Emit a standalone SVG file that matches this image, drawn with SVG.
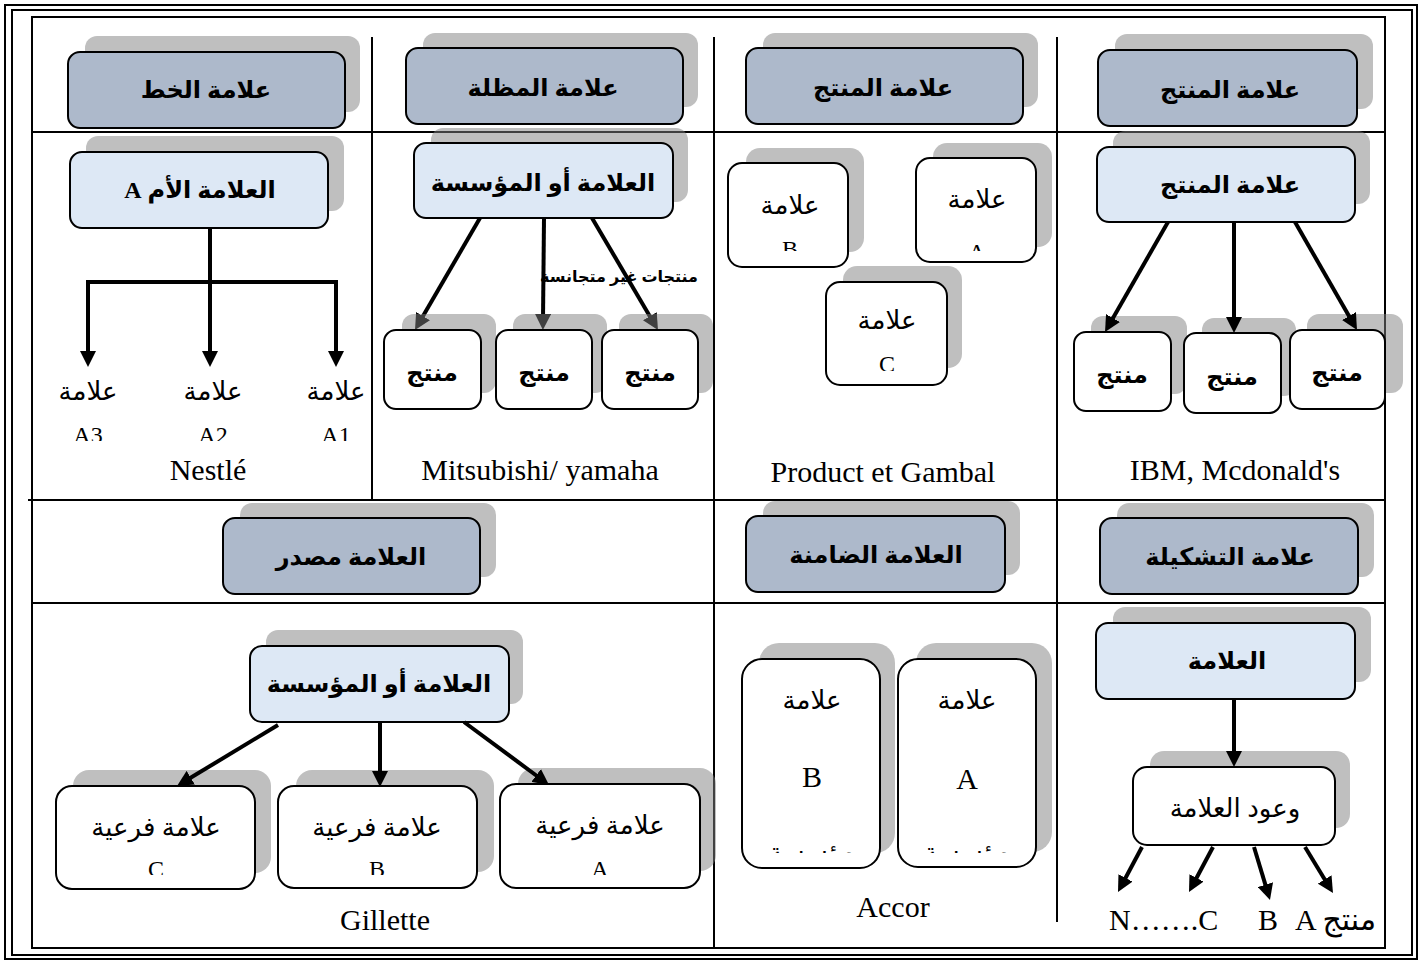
<svg xmlns="http://www.w3.org/2000/svg" width="1426" height="962" viewBox="0 0 1426 962">
  <defs>
    <style>
      .sh { fill: #808080; fill-opacity: 0.5; }
      .hd { fill: #adb9cb; stroke: #000; stroke-width: 2; }
      .lt { fill: #dde8f5; stroke: #000; stroke-width: 2; }
      .wb { fill: #fff; stroke: #000; stroke-width: 2; }
      .ln { fill: none; stroke: #000; stroke-width: 2; }
      .ar { fill: none; stroke: #000; stroke-width: 4; marker-end: url(#ah); }
      .tb { font-family: "Liberation Serif", "DejaVu Sans", serif; font-weight: bold; font-size: 24px; text-anchor: middle; fill: #000; }
      .tr { font-family: "Liberation Serif", "DejaVu Sans", serif; font-size: 26px; text-anchor: middle; fill: #000; }
      .lat { font-family: "Liberation Serif", "Times New Roman", serif; font-size: 24px; text-anchor: middle; fill: #000; }
      .cap { font-family: "Liberation Serif", "Times New Roman", "DejaVu Sans", serif; font-size: 30px; text-anchor: middle; fill: #000; }
      .sm { font-family: "Liberation Serif", "DejaVu Sans", serif; font-weight: bold; font-size: 16px; text-anchor: middle; fill: #000; }
    </style>
    <marker id="ah" viewBox="0 0 16 16" refX="6" refY="8" markerWidth="16" markerHeight="16" markerUnits="userSpaceOnUse" orient="auto-start-reverse">
      <path d="M0,0 L16,8 L0,16 z" fill="#000"/>
    </marker>
    <!-- text boxes that cut their second line -->
    <clipPath id="cA1"><rect x="40" y="410" width="330" height="31"/></clipPath>
    <clipPath id="cB3"><rect x="730" y="230" width="116" height="21"/></clipPath>
    <clipPath id="cA3"><rect x="918" y="230" width="116" height="21"/></clipPath>
    <clipPath id="cC3"><rect x="828" y="340" width="117" height="31"/></clipPath>
    <clipPath id="cSub"><rect x="56" y="850" width="646" height="25"/></clipPath>
    <clipPath id="cOrg"><rect x="744" y="830" width="290" height="23"/></clipPath>
  </defs>

  <!-- page border and table grid -->
  <g id="grid">
    <rect class="ln" x="5" y="5" width="1412" height="954"/>
    <rect class="ln" x="12" y="10" width="1400" height="945"/>
    <rect class="ln" x="32" y="17" width="1353" height="931"/>
    <line class="ln" x1="32" y1="132" x2="1385" y2="132"/>
    <line class="ln" x1="28" y1="500" x2="1385" y2="500" stroke-width="3"/>
    <line class="ln" x1="32" y1="603" x2="1385" y2="603"/>
    <line class="ln" x1="372" y1="37" x2="372" y2="500"/>
    <line class="ln" x1="714" y1="37" x2="714" y2="500"/>
    <line class="ln" x1="1057" y1="37" x2="1057" y2="500"/>
    <line class="ln" x1="714" y1="500" x2="714" y2="948"/>
    <line class="ln" x1="1057" y1="500" x2="1057" y2="922"/>
  </g>

  <!-- column headers -->
  <g id="h-line">
    <rect class="sh" x="85" y="36" width="275" height="76" rx="12"/>
    <rect class="hd" x="68" y="52" width="277" height="76" rx="12"/>
    <text class="tb" x="206" y="98">علامة الخط</text>
  </g>
  <g id="h-umbrella">
    <rect class="sh" x="423" y="33" width="275" height="74" rx="12"/>
    <rect class="hd" x="406" y="48" width="277" height="76" rx="12"/>
    <text class="tb" x="543" y="96">علامة المظلة</text>
  </g>
  <g id="h-product-a">
    <rect class="sh" x="763" y="33" width="275" height="74" rx="12"/>
    <rect class="hd" x="746" y="48" width="277" height="76" rx="12"/>
    <text class="tb" x="883" y="96">علامة المنتج</text>
  </g>
  <g id="h-product-b">
    <rect class="sh" x="1115" y="34" width="258" height="75" rx="12"/>
    <rect class="hd" x="1098" y="50" width="259" height="76" rx="12"/>
    <text class="tb" x="1230" y="98">علامة المنتج</text>
  </g>
  <g id="h-source">
    <rect class="sh" x="240" y="503" width="256" height="74" rx="12"/>
    <rect class="hd" x="223" y="518" width="257" height="76" rx="12"/>
    <text class="tb" x="351" y="565">العلامة مصدر</text>
  </g>
  <g id="h-guarantee">
    <rect class="sh" x="763" y="501" width="257" height="74" rx="12"/>
    <rect class="hd" x="746" y="516" width="259" height="76" rx="12"/>
    <text class="tb" x="876" y="563">العلامة الضامنة</text>
  </g>
  <g id="h-range">
    <rect class="sh" x="1117" y="503" width="257" height="74" rx="12"/>
    <rect class="hd" x="1100" y="518" width="258" height="76" rx="12"/>
    <text class="tb" x="1230" y="565">علامة التشكيلة</text>
  </g>

  <!-- line brand -->
  <g id="mother-brand">
    <rect class="sh" x="86" y="136" width="258" height="75" rx="12"/>
    <rect class="lt" x="70" y="152" width="258" height="76" rx="12"/>
    <text class="tb" x="200" y="198" direction="rtl">العلامة الأم A</text>
  </g>
  <g id="line-marks">
    <text class="tr" x="88" y="400">علامة</text>
    <text class="tr" x="213" y="400">علامة</text>
    <text class="tr" x="336" y="400">علامة</text>
    <g clip-path="url(#cA1)">
      <text class="lat" x="88" y="443">A3</text>
      <text class="lat" x="213" y="443">A2</text>
      <text class="lat" x="336" y="443">A1</text>
    </g>
    <text class="cap" x="208" y="480">Nestlé</text>
  </g>

  <!-- umbrella brand -->
  <g id="umbrella-brand">
    <rect class="sh" x="431" y="128" width="257" height="74" rx="12"/>
    <rect class="lt" x="414" y="143" width="259" height="75" rx="12"/>
    <text class="tb" x="543" y="191">العلامة أو المؤسسة</text>
  </g>
  <text id="umbrella-note" class="sm" x="619" y="282">منتجات غير متجانسة</text>
  <text id="umbrella-cap" class="cap" x="540" y="480">Mitsubishi/ yamaha</text>

  <!-- product brand, separate marks -->
  <g id="mark-b">
    <rect class="sh" x="746" y="148" width="118" height="104" rx="14"/>
    <rect class="wb" x="728" y="163" width="120" height="104" rx="14"/>
    <text class="tr" x="790" y="214">علامة</text>
    <text class="lat" x="790" y="257" clip-path="url(#cB3)">B</text>
  </g>
  <g id="mark-a">
    <rect class="sh" x="933" y="143" width="119" height="104" rx="14"/>
    <rect class="wb" x="916" y="158" width="120" height="104" rx="14"/>
    <text class="tr" x="977" y="208">علامة</text>
    <text class="lat" x="977" y="260" clip-path="url(#cA3)">A</text>
  </g>
  <g id="mark-c">
    <rect class="sh" x="843" y="266" width="119" height="102" rx="14"/>
    <rect class="wb" x="826" y="282" width="121" height="103" rx="14"/>
    <text class="tr" x="887" y="329">علامة</text>
    <text class="lat" x="887" y="372" clip-path="url(#cC3)">C</text>
  </g>
  <text id="product-cap" class="cap" x="883" y="482">Product et Gambal</text>

  <!-- product brand with its products -->
  <g id="product-brand">
    <rect class="sh" x="1113" y="131" width="257" height="73" rx="12"/>
    <rect class="lt" x="1097" y="147" width="258" height="75" rx="12"/>
    <text class="tb" x="1230" y="193">علامة المنتج</text>
  </g>
  <g id="product-q1">
    <rect class="sh" x="1091" y="316" width="96" height="78" rx="12"/>
    <rect class="wb" x="1074" y="332" width="97" height="79" rx="12"/>
    <text class="tb" x="1122" y="383">منتج</text>
  </g>
  <g id="product-q2">
    <rect class="sh" x="1202" y="318" width="94" height="78" rx="12"/>
    <rect class="wb" x="1184" y="333" width="97" height="80" rx="12"/>
    <text class="tb" x="1232" y="385">منتج</text>
  </g>
  <g id="product-q3">
    <rect class="sh" x="1307" y="314" width="96" height="79" rx="12"/>
    <rect class="wb" x="1290" y="330" width="95" height="79" rx="12"/>
    <text class="tb" x="1337" y="381">منتج</text>
  </g>
  <text id="product-b-cap" class="cap" x="1235" y="480">IBM, Mcdonald's</text>

  <!-- source brand -->
  <g id="source-brand">
    <rect class="sh" x="266" y="630" width="257" height="74" rx="12"/>
    <rect class="lt" x="250" y="646" width="259" height="76" rx="12"/>
    <text class="tb" x="379" y="692">العلامة أو المؤسسة</text>
  </g>
  <g id="sub-c">
    <rect class="sh" x="73" y="770" width="198" height="103" rx="16"/>
    <rect class="wb" x="56" y="786" width="199" height="103" rx="16"/>
    <text class="tr" x="156" y="836">علامة فرعية</text>
  </g>
  <g id="sub-b">
    <rect class="sh" x="296" y="770" width="198" height="102" rx="16"/>
    <rect class="wb" x="278" y="786" width="199" height="102" rx="16"/>
    <text class="tr" x="377" y="836">علامة فرعية</text>
  </g>
  <g id="sub-a">
    <rect class="sh" x="518" y="768" width="198" height="103" rx="16"/>
    <rect class="wb" x="500" y="784" width="200" height="104" rx="16"/>
    <text class="tr" x="600" y="834">علامة فرعية</text>
  </g>
  <g clip-path="url(#cSub)">
    <text class="lat" x="156" y="877">C</text>
    <text class="lat" x="377" y="877">B</text>
    <text class="lat" x="600" y="877">A</text>
  </g>
  <text id="source-cap" class="cap" x="385" y="930">Gillette</text>

  <!-- guarantee brand -->
  <g id="guar-b">
    <rect class="sh" x="759" y="643" width="136" height="210" rx="20"/>
    <rect class="wb" x="742" y="659" width="138" height="209" rx="20"/>
    <text class="tr" x="812" y="709">علامة</text>
    <text class="cap" x="812" y="787">B</text>
  </g>
  <g id="guar-a">
    <rect class="sh" x="916" y="643" width="136" height="209" rx="20"/>
    <rect class="wb" x="898" y="659" width="138" height="208" rx="20"/>
    <text class="tr" x="967" y="709">علامة</text>
    <text class="cap" x="967" y="789">A</text>
  </g>
  <g clip-path="url(#cOrg)">
    <text class="tr" x="812" y="861">مؤسسة</text>
    <text class="tr" x="967" y="861">مؤسسة</text>
  </g>
  <text id="guar-cap" class="cap" x="893" y="917">Accor</text>

  <!-- range brand -->
  <g id="range-brand">
    <rect class="sh" x="1113" y="607" width="258" height="75" rx="12"/>
    <rect class="lt" x="1096" y="623" width="259" height="76" rx="12"/>
    <text class="tb" x="1227" y="669">العلامة</text>
  </g>
  <g id="promise">
    <rect class="sh" x="1150" y="751" width="200" height="77" rx="14"/>
    <rect class="wb" x="1133" y="767" width="202" height="78" rx="14"/>
    <text class="tr" x="1235" y="817">وعود العلامة</text>
  </g>
  <g id="range-products">
    <text class="cap" x="1109" y="930" style="text-anchor:start">N…….C</text>
    <text class="cap" x="1258" y="930" style="text-anchor:start">B</text>
    <text class="cap" x="1295" y="930" style="text-anchor:start">A</text>
    <text class="cap" x="1376" y="930" style="text-anchor:end">منتج</text>
  </g>

  <!-- connectors -->
  <g id="connectors">
    <path class="ar" d="M210,228 V357"/>
    <path class="ar" d="M88,357 V282 H336 V357" marker-start="url(#ah)"/>
    <line class="ar" x1="480" y1="218" x2="420" y2="321.3"/>
    <line class="ar" x1="544" y1="218" x2="543" y2="320"/>
    <line class="ar" x1="592" y1="218" x2="652.9" y2="321.4"/>
    <line class="ar" x1="1168" y1="222" x2="1110" y2="323.3"/>
    <line class="ar" x1="1234" y1="222" x2="1234" y2="323"/>
    <line class="ar" x1="1295" y1="222" x2="1352" y2="321.3"/>
    <line class="ar" x1="278" y1="725" x2="185.6" y2="780.8"/>
    <line class="ar" x1="380" y1="722" x2="380" y2="777"/>
    <line class="ar" x1="464" y1="722" x2="541" y2="779"/>
    <line class="ar" x1="1234" y1="699" x2="1234" y2="757"/>
    <line class="ar" x1="1142" y1="847" x2="1122.7" y2="883.2"/>
    <line class="ar" x1="1213" y1="847" x2="1193.7" y2="883.2"/>
    <line class="ar" x1="1254" y1="847" x2="1267.1" y2="890.4"/>
    <line class="ar" x1="1305" y1="847" x2="1327.8" y2="884.5"/>
  </g>

  <!-- umbrella products, their shadows lie over the arrow tips -->
  <g id="umbrella-p1">
    <rect class="sh" x="402" y="314" width="94" height="79" rx="12"/>
    <rect class="wb" x="384" y="330" width="97" height="79" rx="12"/>
    <text class="tb" x="432" y="381">منتج</text>
  </g>
  <g id="umbrella-p2">
    <rect class="sh" x="513" y="314" width="94" height="79" rx="12"/>
    <rect class="wb" x="496" y="330" width="96" height="79" rx="12"/>
    <text class="tb" x="544" y="381">منتج</text>
  </g>
  <g id="umbrella-p3">
    <rect class="sh" x="619" y="314" width="94" height="79" rx="12"/>
    <rect class="wb" x="602" y="330" width="96" height="79" rx="12"/>
    <text class="tb" x="650" y="381">منتج</text>
  </g>
</svg>
